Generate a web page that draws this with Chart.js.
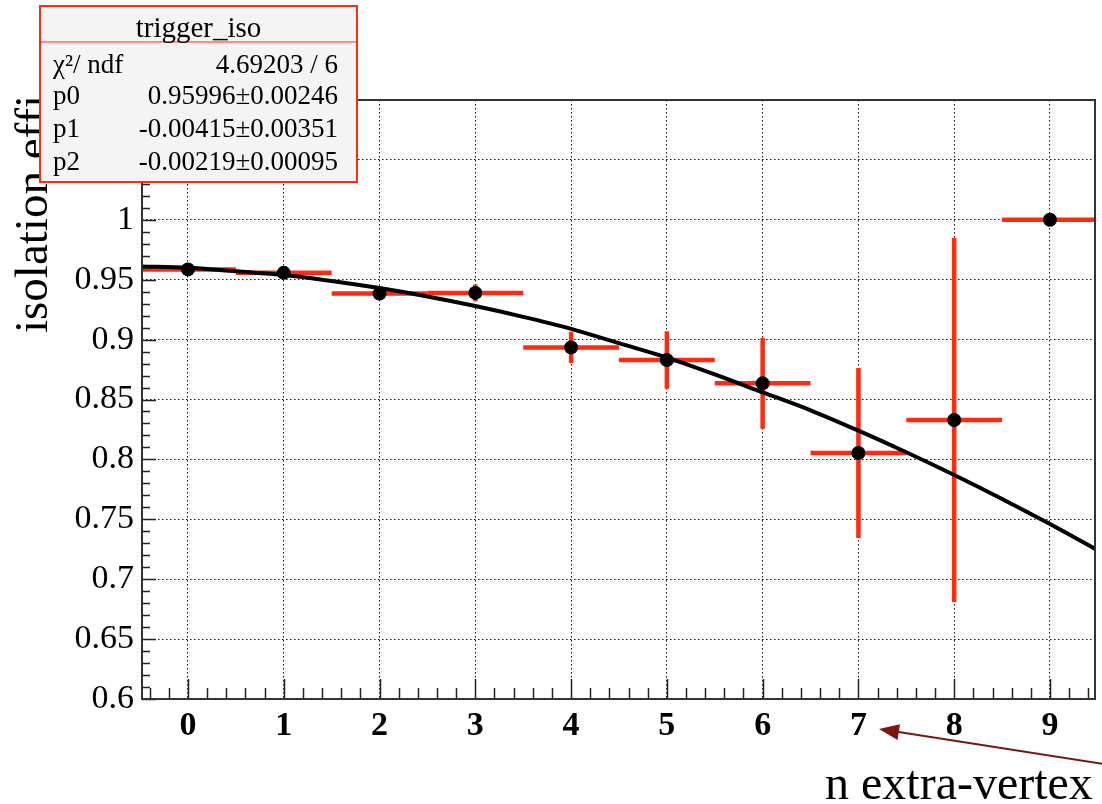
<!DOCTYPE html>
<html>
<head>
<meta charset="utf-8">
<script src="https://cdn.jsdelivr.net/npm/chart.js@4.4.0/dist/chart.umd.min.js"></script>
<style>
  html, body { margin: 0; padding: 0; background: #fff; }
</style>
</head>
<body>
<canvas id="effChart" width="1102" height="804"></canvas>
<script>
// Isolation efficiency vs number of extra vertices

const nVertex = [0, 1, 2, 3, 4, 5, 6, 7, 8, 9];
const isoEff = [0.9586, 0.9557, 0.9384, 0.9390, 0.8935, 0.8829, 0.8635, 0.8053, 0.8329, 1.0];
const isoErr = [0.002, 0.003, 0.004, 0.007, 0.013, 0.024, 0.038, 0.071, 0.152, 0.0];
const binHalfWidth = 0.5;

// pol2 fit curve
const fitX = [-0.5, 0, 0.5, 1, 1.5, 2, 2.5, 3, 3.5, 4, 4.5, 5, 5.5, 6, 6.5, 7, 7.5, 8, 8.5, 9, 9.5];
const fitY = [0.961, 0.960, 0.957, 0.954, 0.949, 0.943, 0.936, 0.928, 0.919, 0.909, 0.897,
              0.885, 0.871, 0.856, 0.841, 0.824, 0.806, 0.787, 0.767, 0.746, 0.724];

const xTicks = [0, 1, 2, 3, 4, 5, 6, 7, 8, 9];
const yTicks = [0.6, 0.65, 0.7, 0.75, 0.8, 0.85, 0.9, 0.95, 1, 1.05, 1.1];

const statsTitle = 'trigger_iso';
const statsLabels = ['\u03c7\u00b2/ ndf', 'p0', 'p1', 'p2'];
const statsValues = ['4.69203 / 6', '0.95996\u00b10.00246', '-0.00415\u00b10.00351', '-0.00219\u00b10.00095'];

const yTitle = 'isolation effi';
const xTitle = 'n extra-vertex';

const RED = '#ff2a10';
const SERIF = "'Liberation Serif', 'DejaVu Serif', serif";

// red error bars (x = bin width, y = stat error)
const errorBars = {
    id: 'errorBars',
    beforeDatasetsDraw(chart) {
        const { ctx, chartArea: a, scales: { x, y } } = chart;
        ctx.save();
        ctx.beginPath();
        ctx.rect(a.left, a.top, a.right - a.left, a.bottom - a.top);
        ctx.clip();
        ctx.strokeStyle = RED;
        ctx.lineWidth = 4.5;
        nVertex.forEach((n, i) => {
            const py = y.getPixelForValue(isoEff[i]);
            const px = x.getPixelForValue(n);
            ctx.beginPath();
            ctx.moveTo(x.getPixelForValue(n - binHalfWidth), py);
            ctx.lineTo(x.getPixelForValue(n + binHalfWidth), py);
            if (isoErr[i] > 0) {
                ctx.moveTo(px, y.getPixelForValue(isoEff[i] + isoErr[i]));
                ctx.lineTo(px, y.getPixelForValue(isoEff[i] - isoErr[i]));
            }
            ctx.stroke();
        });
        ctx.restore();
    }
};

// ROOT-style frame with inward tick marks
const rootFrame = {
    id: 'rootFrame',
    afterDatasetsDraw(chart) {
        const { ctx, chartArea: a, scales: { x, y } } = chart;
        ctx.save();
        ctx.strokeStyle = '#222';
        ctx.lineWidth = 1.5;
        ctx.beginPath();
        // y ticks: major every 0.05, minor every 0.01
        for (let k = 0; k <= 50; k++) {
            const v = 0.6 + k * 0.01;
            const py = Math.round(y.getPixelForValue(v)) + 0.5;
            const len = (k % 5 === 0) ? 14 : 8;
            ctx.moveTo(a.left, py);
            ctx.lineTo(a.left + len, py);
        }
        // x ticks: major every 1, minor every 0.2
        for (let k = -2; k <= 47; k++) {
            const v = k * 0.2;
            const px = Math.round(x.getPixelForValue(v)) + 0.5;
            const len = (k % 5 === 0) ? 20 : 11;
            ctx.moveTo(px, a.bottom);
            ctx.lineTo(px, a.bottom - len);
        }
        ctx.stroke();
        ctx.lineWidth = 2;
        ctx.strokeStyle = '#333';
        ctx.strokeRect(a.left, a.top, a.right - a.left, a.bottom - a.top);
        ctx.restore();
    }
};

// axis titles, arrow and the stats box
const decorations = {
    id: 'decorations',
    afterDraw(chart) {
        const { ctx } = chart;
        ctx.save();

        // y title
        ctx.save();
        ctx.translate(47, 95);
        ctx.rotate(-Math.PI / 2);
        ctx.font = '47px ' + SERIF;
        ctx.fillStyle = '#000';
        ctx.textAlign = 'right';
        ctx.textBaseline = 'alphabetic';
        ctx.fillText(yTitle, 0, 0);
        ctx.restore();

        // x title
        ctx.font = '48px ' + SERIF;
        ctx.fillStyle = '#000';
        ctx.textAlign = 'left';
        ctx.textBaseline = 'alphabetic';
        ctx.fillText(xTitle, 825, 799);

        // arrow pointing at the axis
        const tip = [879, 729], tail = [1104, 764];
        const ang = Math.atan2(tail[1] - tip[1], tail[0] - tip[0]);
        ctx.strokeStyle = '#7b1712';
        ctx.fillStyle = '#7b1712';
        ctx.lineWidth = 2;
        ctx.beginPath();
        ctx.moveTo(tail[0], tail[1]);
        ctx.lineTo(tip[0] + 15 * Math.cos(ang), tip[1] + 15 * Math.sin(ang));
        ctx.stroke();
        ctx.beginPath();
        ctx.moveTo(tip[0], tip[1]);
        ctx.lineTo(tip[0] + 20 * Math.cos(ang) - 8 * Math.sin(ang), tip[1] + 20 * Math.sin(ang) + 8 * Math.cos(ang));
        ctx.lineTo(tip[0] + 20 * Math.cos(ang) + 8 * Math.sin(ang), tip[1] + 20 * Math.sin(ang) - 8 * Math.cos(ang));
        ctx.closePath();
        ctx.fill();

        // stats box
        const bx = 40, by = 6, bw = 317, bh = 176;
        ctx.fillStyle = '#f4f4f4';
        ctx.fillRect(bx, by, bw, bh);
        ctx.strokeStyle = RED;
        ctx.lineWidth = 2;
        ctx.strokeRect(bx, by, bw, bh);
        ctx.lineWidth = 1.2;
        ctx.beginPath();
        ctx.moveTo(bx, 42);
        ctx.lineTo(bx + bw, 42);
        ctx.stroke();

        ctx.fillStyle = '#000';
        ctx.font = '29px ' + SERIF;
        ctx.textAlign = 'center';
        ctx.fillText(statsTitle, bx + bw / 2, 37);

        ctx.font = '27px ' + SERIF;
        const rowBase = [73, 104, 137, 170];
        statsLabels.forEach((lab, i) => {
            ctx.textAlign = 'left';
            ctx.fillText(lab, 53, rowBase[i]);
            ctx.textAlign = 'right';
            ctx.fillText(statsValues[i], 338, rowBase[i]);
        });

        ctx.restore();
    }
};

const ctx = document.getElementById('effChart').getContext('2d');

new Chart(ctx, {
    type: 'scatter',
    data: {
        datasets: [
            {
                label: 'pol2 fit',
                type: 'line',
                data: fitX.map((v, i) => ({ x: v, y: fitY[i] })),
                borderColor: '#000',
                borderWidth: 4,
                pointRadius: 0,
                cubicInterpolationMode: 'monotone',
                fill: false,
                order: 1
            },
            {
                label: 'trigger_iso',
                data: nVertex.map((v, i) => ({ x: v, y: isoEff[i] })),
                backgroundColor: '#000',
                borderWidth: 0,
                pointRadius: 7,
                order: 0
            }
        ]
    },
    options: {
        responsive: false,
        animation: false,
        layout: { padding: { top: 100, right: 5, left: 0, bottom: 0 } },
        plugins: {
            legend: { display: false },
            tooltip: { enabled: false }
        },
        scales: {
            x: {
                type: 'linear',
                min: -0.48,
                max: 9.47,
                afterBuildTicks: (scale) => { scale.ticks = xTicks.map(v => ({ value: v })); },
                afterFit: (scale) => { scale.height = 105; },
                grid: { color: '#111', lineWidth: 1, drawTicks: false },
                border: { display: false, dash: [1.5, 2.5] },
                ticks: {
                    color: '#000',
                    padding: 7,
                    maxRotation: 0,
                    font: { family: SERIF, size: 34, weight: 'bold' },
                    callback: (v) => String(v)
                }
            },
            y: {
                type: 'linear',
                min: 0.6,
                max: 1.1,
                afterBuildTicks: (scale) => { scale.ticks = yTicks.map(v => ({ value: v })); },
                afterFit: (scale) => { scale.width = 142; },
                grid: { color: '#111', lineWidth: 1, drawTicks: false },
                border: { display: false, dash: [1.5, 2.5] },
                ticks: {
                    color: '#000',
                    padding: 8,
                    font: { family: SERIF, size: 34 },
                    callback: (v) => String(Math.round(v * 100) / 100)
                }
            }
        }
    },
    plugins: [errorBars, rootFrame, decorations]
});
</script>
</body>
</html>
